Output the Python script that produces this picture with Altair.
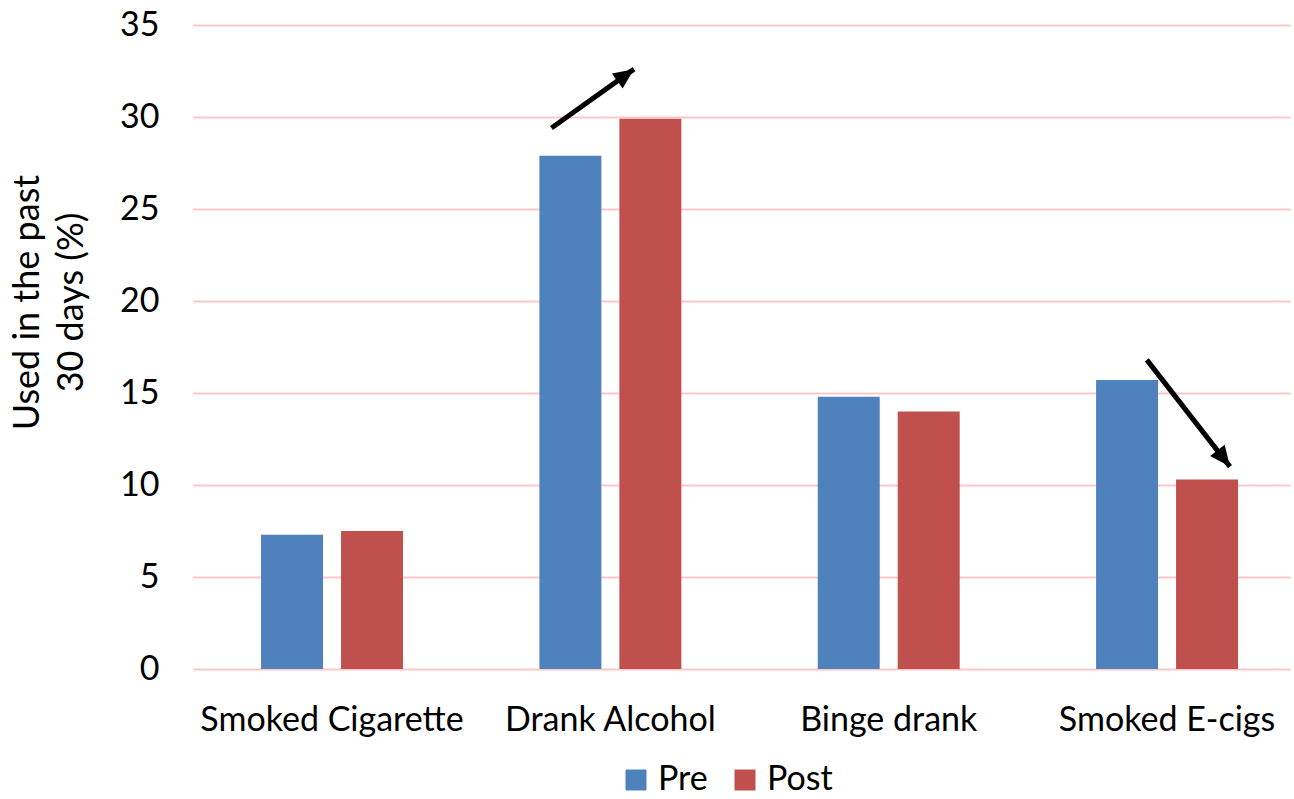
import altair as alt
import pandas as pd

categories = ["Smoked Cigarette", "Drank Alcohol", "Binge drank", "Smoked E-cigs"]
pre_values = [7.3, 27.9, 14.8, 15.7]
post_values = [7.5, 29.9, 14.0, 10.3]
series = ["Pre", "Post"]
colors = ["#4F81BD", "#C0504D"]

# arrows in data units: x is position along the category axis (0..4), y in %
arrow_x_start = [1.307, 3.478]
arrow_y_start = [29.4, 16.8]
arrow_x_end = [1.608, 3.781]
arrow_y_end = [32.6, 11.0]
arrow_angles = [54.6, 142.2]

rows = []
for i, c in enumerate(categories):
    rows.append({"category": c, "series": "Pre", "value": pre_values[i]})
    rows.append({"category": c, "series": "Post", "value": post_values[i]})
df = pd.DataFrame(rows)

FONT = "Lato"
FS = 34
yscale = alt.Scale(domain=[0, 35])

bars = alt.Chart(df).mark_bar().encode(
    x=alt.X("category:N", sort=categories, title=None,
            scale=alt.Scale(paddingInner=0.49, paddingOuter=0.2156, align=0.567),
            axis=alt.Axis(labelAngle=0, domain=False, ticks=False, labelFontSize=FS,
                          labelFont=FONT, labelColor="#000000", labelPadding=34,
                          labelLimit=0)),
    xOffset=alt.XOffset("series:N", sort=series,
                        scale=alt.Scale(paddingInner=0.225, paddingOuter=0)),
    y=alt.Y("value:Q", title=["Used in the past", "30 days (%)"],
            scale=yscale,
            axis=alt.Axis(values=[0, 5, 10, 15, 20, 25, 30, 35], domain=False, ticks=False,
                          grid=True, gridColor="#FFC7C7", gridWidth=2,
                          labelFontSize=FS, labelFont=FONT, labelColor="#000000",
                          labelPadding=34, titleFont=FONT, titleFontSize=FS + 2,
                          titleFontWeight="normal", titleColor="#000000",
                          titlePadding=29, titleLineHeight=44, titleY=277)),
    color=alt.Color("series:N", sort=series,
                    scale=alt.Scale(domain=series, range=colors),
                    legend=alt.Legend(title=None, orient="none", legendX=426, legendY=738,
                                      direction="horizontal", symbolType="square",
                                      symbolSize=441, symbolStrokeWidth=0,
                                      labelFontSize=FS, labelFont=FONT, labelColor="#000000",
                                      columnPadding=20, labelOffset=5)),
)

layers = [bars]
for i in range(len(arrow_x_start)):
    adf = pd.DataFrame({"x": [arrow_x_start[i]], "y": [arrow_y_start[i]],
                        "x2": [arrow_x_end[i]], "y2": [arrow_y_end[i]]})
    xs = alt.Scale(domain=[0, 4])
    shaft = alt.Chart(adf).mark_rule(color="black", strokeWidth=5, strokeCap="butt").encode(
        x=alt.X("x:Q", scale=xs, axis=None),
        x2="x2:Q",
        y=alt.Y("y:Q", scale=yscale),
        y2="y2:Q",
    )
    head = alt.Chart(adf).mark_point(
        shape="M0,0L0.9,2L-0.9,2Z", filled=True, color="black", opacity=1,
        size=420, angle=arrow_angles[i], strokeWidth=0,
    ).encode(
        x=alt.X("x2:Q", scale=xs, axis=None),
        y=alt.Y("y2:Q", scale=yscale),
    )
    layers += [shaft, head]

chart = alt.layer(*layers).resolve_scale(x="independent").properties(
    width=1097, height=644,
    autosize=alt.AutoSizeParams(type="none"),
    padding={"left": 193, "top": 25, "right": 4, "bottom": 130},
    background="white",
).configure_view(stroke=None)

chart.save("out.html", embed_options={"renderer": "svg", "actions": False})
